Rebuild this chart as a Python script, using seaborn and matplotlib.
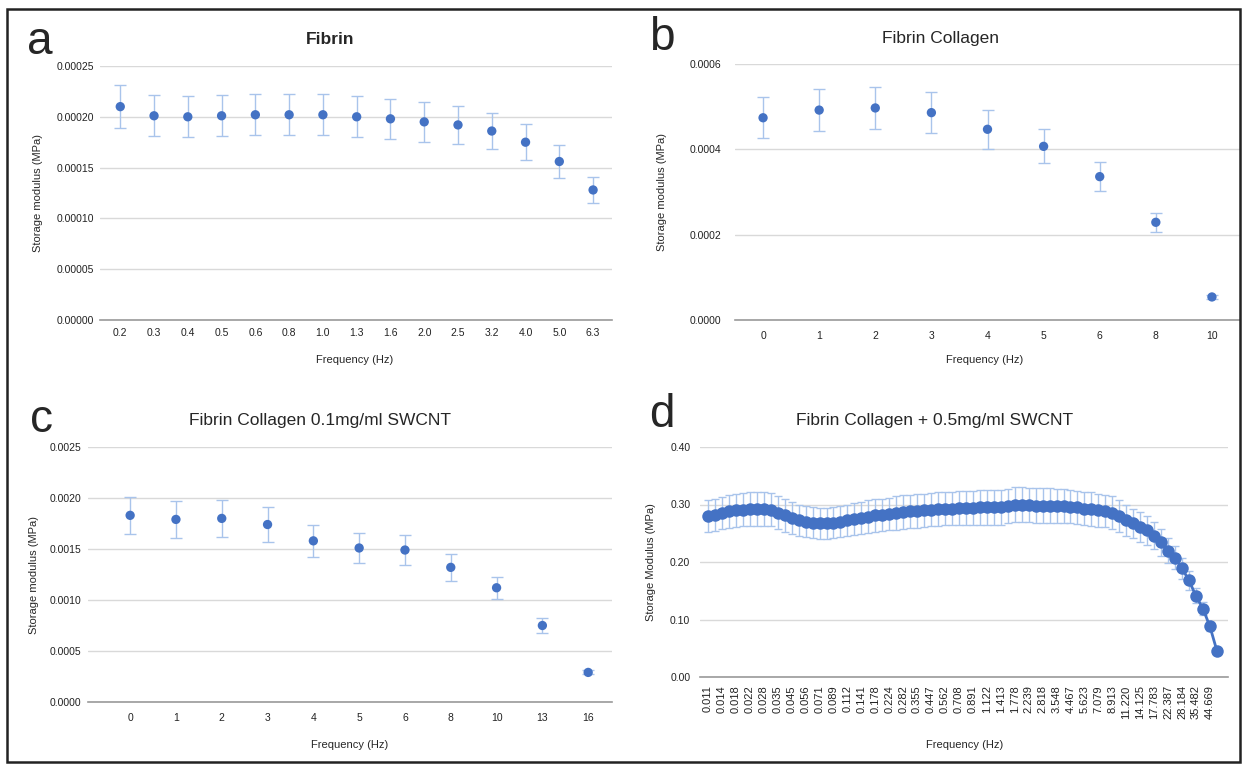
import numpy as np
import pandas as pd
import matplotlib
matplotlib.use("Agg")
import matplotlib.pyplot as plt
from matplotlib.patches import Rectangle
from matplotlib.ticker import FormatStrFormatter
import seaborn as sns

# ---- data ----
a_freq = ["0.2", "0.3", "0.4", "0.5", "0.6", "0.8", "1.0", "1.3", "1.6", "2.0", "2.5", "3.2", "4.0", "5.0", "6.3"]
a_val = [0.000210, 0.000201, 0.000200, 0.000201, 0.000202, 0.000202, 0.000202, 0.000200,
         0.000198, 0.000195, 0.000192, 0.000186, 0.000175, 0.000156, 0.000128]
a_err = [0.000021, 0.000020, 0.000020, 0.000020, 0.000020, 0.000020, 0.000020, 0.000020,
         0.000020, 0.000020, 0.000019, 0.000018, 0.000018, 0.000016, 0.000013]

b_freq = ["0", "1", "2", "3", "4", "5", "6", "8", "10"]
b_val = [0.000474, 0.000492, 0.000497, 0.000486, 0.000447, 0.000407, 0.000336, 0.000229, 0.000054]
b_err = [0.000048, 0.000049, 0.000050, 0.000048, 0.000046, 0.000040, 0.000034, 0.000022, 0.000005]

c_freq = ["0", "1", "2", "3", "4", "5", "6", "8", "10", "13", "16"]
c_val = [0.00183, 0.00179, 0.00180, 0.00174, 0.00158, 0.00151, 0.00149, 0.00132, 0.00112, 0.00075, 0.00029]
c_err = [0.00018, 0.00018, 0.00018, 0.00017, 0.00016, 0.00015, 0.00015, 0.00013, 0.00011, 0.00007, 0.00002]

# panel d: 74 points, every other one labelled
d_labels = ["0.011", "0.014", "0.018", "0.022", "0.028", "0.035", "0.045", "0.056", "0.071", "0.089",
            "0.112", "0.141", "0.178", "0.224", "0.282", "0.355", "0.447", "0.562", "0.708", "0.891",
            "1.122", "1.413", "1.778", "2.239", "2.818", "3.548", "4.467", "5.623", "7.079", "8.913",
            "11.220", "14.125", "17.783", "22.387", "28.184", "35.482", "44.669"]
d_val = [0.280, 0.282, 0.285, 0.288, 0.290, 0.291, 0.292, 0.292, 0.292, 0.291,
         0.286, 0.281, 0.276, 0.273, 0.270, 0.268, 0.267, 0.267, 0.268, 0.270,
         0.273, 0.275, 0.277, 0.279, 0.281, 0.282, 0.284, 0.285, 0.287, 0.288,
         0.289, 0.290, 0.291, 0.292, 0.293, 0.293, 0.294, 0.294, 0.294, 0.295,
         0.295, 0.295, 0.295, 0.297, 0.300, 0.300, 0.299, 0.298, 0.298, 0.298,
         0.297, 0.297, 0.296, 0.295, 0.293, 0.292, 0.290, 0.289, 0.286, 0.280,
         0.273, 0.267, 0.261, 0.255, 0.246, 0.234, 0.220, 0.207, 0.189, 0.168,
         0.141, 0.119, 0.088, 0.046]
d_err = [0.027, 0.028, 0.028, 0.029, 0.029, 0.029, 0.029, 0.029, 0.029, 0.029,
         0.029, 0.028, 0.028, 0.027, 0.027, 0.027, 0.027, 0.027, 0.027, 0.027,
         0.027, 0.028, 0.028, 0.028, 0.028, 0.028, 0.028, 0.029, 0.029, 0.029,
         0.029, 0.029, 0.029, 0.029, 0.029, 0.029, 0.029, 0.029, 0.030, 0.030,
         0.030, 0.030, 0.030, 0.030, 0.030, 0.030, 0.030, 0.030, 0.030, 0.030,
         0.030, 0.030, 0.029, 0.029, 0.029, 0.029, 0.029, 0.028, 0.028, 0.028,
         0.027, 0.026, 0.026, 0.025, 0.024, 0.023, 0.022, 0.020, 0.018, 0.016,
         0.013, 0.011, 0.008, 0.004]

BLUE = "#4472c4"
ERR = "#a9c4eb"
GRID = "#d9d9d9"
W, H = 1244, 765

sns.set_style("white")
plt.rcParams["font.family"] = ["Liberation Sans", "DejaVu Sans"]

fig = plt.figure(figsize=(W / 100, H / 100), dpi=100)


def px_axes(l, t, r, b):
    return fig.add_axes([l / W, 1 - b / H, (r - l) / W, (b - t) / H])


def style(ax, ylim, step, fmt, xlim, ypad):
    ax.set_ylim(*ylim)
    ax.set_yticks(np.arange(ylim[0], ylim[1] + step / 2, step))
    ax.yaxis.set_major_formatter(FormatStrFormatter(fmt))
    ax.set_xlim(*xlim)
    ax.grid(axis="y", color=GRID, lw=1)
    ax.grid(axis="x", visible=False)
    ax.set_axisbelow(True)
    sns.despine(ax=ax, left=True)
    ax.spines["bottom"].set_color("#9a9a9a")
    ax.spines["bottom"].set_linewidth(1.2)
    ax.tick_params(length=0, labelsize=7.5, colors="#222222")
    ax.tick_params(axis="y", pad=ypad)
    ax.set_xlabel("")
    ax.set_ylabel("")


def dot_panel(ax, labels, vals, errs):
    df = pd.DataFrame({"pos": range(len(vals)), "val": vals, "err": errs})
    ax.errorbar(df["pos"], df["val"], yerr=df["err"], fmt="none", ecolor=ERR,
                elinewidth=1, capsize=4.5, capthick=1, zorder=2)
    sns.scatterplot(data=df, x="pos", y="val", ax=ax, color=BLUE, s=45,
                    edgecolor="none", zorder=3, legend=False)
    ax.set_xticks(df["pos"])
    ax.set_xticklabels(labels)


# a
ax_a = px_axes(100, 66, 612, 320)
dot_panel(ax_a, a_freq, a_val, a_err)
style(ax_a, (0, 0.00025), 0.00005, "%.5f", (-0.6, 14.56), 4)
ax_a.tick_params(axis="x", pad=6)

# b
ax_b = px_axes(735, 64, 1240, 320)
dot_panel(ax_b, b_freq, b_val, b_err)
style(ax_b, (0, 0.0006), 0.0002, "%.4f", (-0.5, 8.5), 10)
ax_b.tick_params(axis="x", pad=8)

# c
ax_c = px_axes(88, 447, 612, 702)
dot_panel(ax_c, c_freq, c_val, c_err)
style(ax_c, (0, 0.0025), 0.0005, "%.4f", (-0.92, 10.52), 5)
ax_c.tick_params(axis="x", pad=8)

# d
ax_d = px_axes(700, 447, 1228, 677)
dd = pd.DataFrame({"pos": range(len(d_val)), "val": d_val, "err": d_err})
ax_d.errorbar(dd["pos"], dd["val"], yerr=dd["err"], fmt="none", ecolor=ERR,
              elinewidth=1, capsize=2.6, capthick=1, zorder=2)
sns.lineplot(data=dd, x="pos", y="val", ax=ax_d, color=BLUE, lw=2, marker="o",
             markersize=9, markeredgewidth=0, zorder=3)
ax_d.set_xticks(dd["pos"][::2])
ax_d.set_xticklabels(d_labels, rotation=90)
style(ax_d, (0, 0.40), 0.10, "%.2f", (-1.15, 74.6), 7)
ax_d.tick_params(axis="x", pad=6, labelsize=8)

# titles, letters, axis labels
fig.text(330 / W, 1 - 40 / H, "Fibrin", ha="center", va="center", fontsize=12.5, fontweight="bold")
fig.text(940 / W, 1 - 38 / H, "Fibrin Collagen", ha="center", va="center", fontsize=12.5)
fig.text(320 / W, 1 - 420 / H, "Fibrin Collagen 0.1mg/ml SWCNT", ha="center", va="center", fontsize=12.5)
fig.text(935 / W, 1 - 420 / H, "Fibrin Collagen + 0.5mg/ml SWCNT", ha="center", va="center", fontsize=12.5)

for x, y, s in [(40, 42, "a"), (662, 38, "b"), (42, 420, "c"), (662, 415, "d")]:
    fig.text(x / W, 1 - y / H, s, ha="center", va="center", fontsize=33)

fig.text(355 / W, 1 - 360 / H, "Frequency (Hz)", ha="center", va="center", fontsize=8)
fig.text(985 / W, 1 - 360 / H, "Frequency (Hz)", ha="center", va="center", fontsize=8)
fig.text(350 / W, 1 - 745 / H, "Frequency (Hz)", ha="center", va="center", fontsize=8)
fig.text(965 / W, 1 - 745 / H, "Frequency (Hz)", ha="center", va="center", fontsize=8)

fig.text(38 / W, 1 - 193 / H, "Storage modulus (MPa)", ha="center", va="center", fontsize=8, rotation=90)
fig.text(662 / W, 1 - 192 / H, "Storage modulus (MPa)", ha="center", va="center", fontsize=8, rotation=90)
fig.text(34 / W, 1 - 575 / H, "Storage modulus (MPa)", ha="center", va="center", fontsize=8, rotation=90)
fig.text(651 / W, 1 - 562 / H, "Storage Modulus (MPa)", ha="center", va="center", fontsize=8, rotation=90)

# outer frame
fig.add_artist(Rectangle((7 / W, 3 / H), (1240 - 7) / W, (762 - 9) / H, transform=fig.transFigure,
                         fill=False, edgecolor="#222222", lw=1.8))

fig.savefig("out.png", dpi=100)
